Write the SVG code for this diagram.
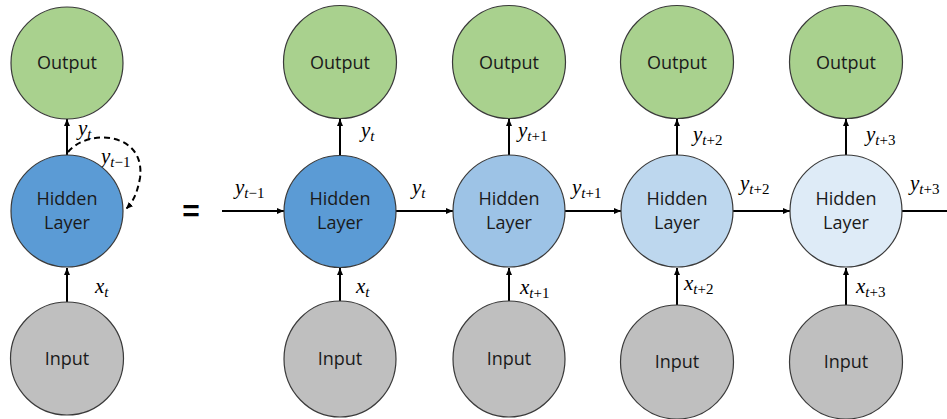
<svg xmlns="http://www.w3.org/2000/svg" width="947" height="419" viewBox="0 0 947 419">
<defs>
<marker id="ah" markerWidth="8" markerHeight="8" refX="7" refY="4" orient="auto" markerUnits="userSpaceOnUse">
<path d="M0,1 L7,4 L0,7 Z" fill="#000"/>
</marker>
<style>
.node{stroke:#3a3a3a;stroke-width:1.2}
.out{fill:#A9D18E}
.inp{fill:#BFBFBF}
.h1{fill:#5B9BD5}
.h2{fill:#9DC3E6}
.h3{fill:#BDD7EE}
.h4{fill:#DEEBF7}
.lbl{font-family:"Open Sans","Liberation Sans",sans-serif;font-size:18px;fill:#1a1a1a;text-anchor:middle}
.m{font-family:"Liberation Serif","DejaVu Serif",serif;font-style:italic;font-size:21px;fill:#000}
.s{font-size:15px}
.n{font-style:normal}
.ar{stroke:#000;stroke-width:2;fill:none;marker-end:url(#ah)}
.ln{stroke:#000;stroke-width:2;fill:none}
.dash{stroke:#000;stroke-width:2;fill:none;stroke-dasharray:6 4;marker-end:url(#ah)}
</style>
</defs>

<g id="connectors">
<line class="ar" x1="67" y1="302" x2="67" y2="268"/>
<line class="ar" x1="67" y1="155" x2="67" y2="119"/>
<path class="dash" d="M68,152 C88,128 146,132 140,178 C137,194 133,202 126,209"/>
<line class="ar" x1="340" y1="301" x2="340" y2="268"/>
<line class="ar" x1="509" y1="301" x2="509" y2="268"/>
<line class="ar" x1="677" y1="305" x2="677" y2="268"/>
<line class="ar" x1="846" y1="305" x2="846" y2="268"/>
<line class="ar" x1="340" y1="156" x2="340" y2="119"/>
<line class="ar" x1="509" y1="155" x2="509" y2="119"/>
<line class="ar" x1="677" y1="155" x2="677" y2="119"/>
<line class="ar" x1="846" y1="155" x2="846" y2="119"/>
<line class="ar" x1="222" y1="211" x2="284" y2="211"/>
<line class="ar" x1="396" y1="211" x2="453" y2="211"/>
<line class="ar" x1="565" y1="211" x2="621" y2="211"/>
<line class="ar" x1="733" y1="211" x2="790" y2="211"/>
<line class="ln" x1="902" y1="211" x2="947" y2="211"/>
</g>

<g id="labels">
<text class="m" x="78" y="135">y<tspan class="s" dy="4">t</tspan></text>
<text class="m" x="101" y="163">y<tspan class="s" dy="4">t<tspan class="n">−1</tspan></tspan></text>
<text class="m" x="95" y="293">x<tspan class="s" dy="4">t</tspan></text>
<text class="m" x="361" y="137">y<tspan class="s" dy="4">t</tspan></text>
<text class="m" x="518" y="137">y<tspan class="s" dy="4">t<tspan class="n">+1</tspan></tspan></text>
<text class="m" x="693" y="141">y<tspan class="s" dy="4">t<tspan class="n">+2</tspan></tspan></text>
<text class="m" x="866" y="141">y<tspan class="s" dy="4">t<tspan class="n">+3</tspan></tspan></text>
<text class="m" x="235" y="194">y<tspan class="s" dy="4">t<tspan class="n">−1</tspan></tspan></text>
<text class="m" x="412" y="194">y<tspan class="s" dy="4">t</tspan></text>
<text class="m" x="572" y="194">y<tspan class="s" dy="4">t<tspan class="n">+1</tspan></tspan></text>
<text class="m" x="740" y="190">y<tspan class="s" dy="4">t<tspan class="n">+2</tspan></tspan></text>
<text class="m" x="910" y="190">y<tspan class="s" dy="4">t<tspan class="n">+3</tspan></tspan></text>
<text class="m" x="356" y="293">x<tspan class="s" dy="4">t</tspan></text>
<text class="m" x="520" y="294">x<tspan class="s" dy="4">t<tspan class="n">+1</tspan></tspan></text>
<text class="m" x="684" y="290">x<tspan class="s" dy="4">t<tspan class="n">+2</tspan></tspan></text>
<text class="m" x="856" y="293">x<tspan class="s" dy="4">t<tspan class="n">+3</tspan></tspan></text>
<text x="191" y="221" style="font-family:'Liberation Sans',Arial,sans-serif;font-weight:bold;font-size:30px;text-anchor:middle;fill:#000">=</text>
</g>

<g id="left-output"><circle class="node out" cx="67" cy="63" r="56"/><text class="lbl" x="67" y="69">Output</text></g>
<g id="left-hidden"><circle class="node h1" cx="67" cy="211" r="56"/><text class="lbl" x="67" y="205">Hidden</text><text class="lbl" x="67" y="229">Layer</text></g>
<g id="left-input"><circle class="node inp" cx="67" cy="358.5" r="56.5"/><text class="lbl" x="67" y="365">Input</text></g>

<g id="output-1"><circle class="node out" cx="340" cy="62" r="56.5"/><text class="lbl" x="340" y="69">Output</text></g>
<g id="output-2"><circle class="node out" cx="509" cy="62" r="56.5"/><text class="lbl" x="509" y="69">Output</text></g>
<g id="output-3"><circle class="node out" cx="677" cy="62" r="56.5"/><text class="lbl" x="677" y="69">Output</text></g>
<g id="output-4"><circle class="node out" cx="846" cy="62" r="56.5"/><text class="lbl" x="846" y="69">Output</text></g>

<g id="hidden-1"><circle class="node h1" cx="340" cy="211.5" r="56"/><text class="lbl" x="340" y="205">Hidden</text><text class="lbl" x="340" y="229">Layer</text></g>
<g id="hidden-2"><circle class="node h2" cx="509" cy="211" r="56"/><text class="lbl" x="509" y="205">Hidden</text><text class="lbl" x="509" y="229">Layer</text></g>
<g id="hidden-3"><circle class="node h3" cx="677" cy="211" r="56"/><text class="lbl" x="677" y="205">Hidden</text><text class="lbl" x="677" y="229">Layer</text></g>
<g id="hidden-4"><circle class="node h4" cx="846" cy="211" r="56"/><text class="lbl" x="846" y="205">Hidden</text><text class="lbl" x="846" y="229">Layer</text></g>

<g id="input-1"><ellipse class="node inp" cx="340" cy="359" rx="56" ry="58"/><text class="lbl" x="340" y="365">Input</text></g>
<g id="input-2"><ellipse class="node inp" cx="509" cy="359" rx="56" ry="58"/><text class="lbl" x="509" y="365">Input</text></g>
<g id="input-3"><ellipse class="node inp" cx="677" cy="362" rx="56.5" ry="57"/><text class="lbl" x="677" y="368">Input</text></g>
<g id="input-4"><ellipse class="node inp" cx="846" cy="362" rx="56.5" ry="57"/><text class="lbl" x="846" y="368">Input</text></g>
</svg>
